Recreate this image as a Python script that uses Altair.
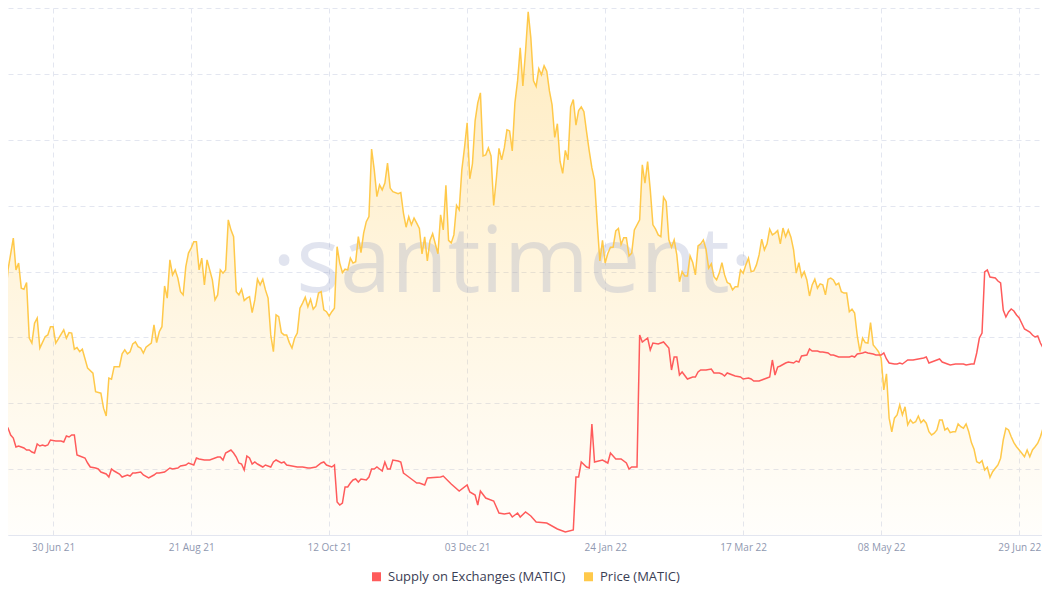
import altair as alt
import pandas as pd

# ---------------- data ----------------
# day offsets from 2021-06-10
price_days = ([0, 1, 2, 3, 5, 6, 7, 8, 9, 10, 11, 12, 13, 14, 15, 17, 18, 19, 20, 21, 24, 25, 26, 27, 28,
               29, 30, 31, 33, 35, 36, 38, 39, 40, 41, 42, 43, 45, 46, 47, 48, 49, 50, 51, 52, 53, 54, 55]
              + list(range(57, 149)) + list(range(150, 238)) + [238, 239]
              + list(range(241, 317)) + list(range(317, 396)))
price_values = [
    1.400, 1.242, 1.316, 1.484, 1.662, 1.484, 1.522, 1.382, 1.376, 1.413, 1.102, 1.074, 1.186, 1.214, 1.046,
    1.110, 1.120, 1.166, 1.166, 1.074, 1.148, 1.102, 1.133, 1.130, 1.040, 1.049, 1.026, 1.040, 0.934, 0.906,
    0.802, 0.794, 0.710, 0.666, 0.878, 0.872, 0.942, 0.942, 1.014, 1.036, 1.014, 1.026, 1.070, 1.081, 1.054,
    1.046, 1.018, 1.051, 1.074, 1.176, 1.077, 1.138, 1.166, 1.394, 1.326, 1.540, 1.456, 1.484, 1.438, 1.362,
    1.344, 1.502, 1.578, 1.606, 1.642, 1.642, 1.484, 1.550, 1.400, 1.540, 1.484,
    1.428, 1.316, 1.344, 1.484, 1.466, 1.484, 1.764, 1.708, 1.670, 1.362, 1.344, 1.376, 1.312, 1.326, 1.334,
    1.245, 1.316, 1.432, 1.400, 1.432, 1.372, 1.326, 1.120, 1.026, 1.232, 1.222, 1.133, 1.120, 1.120, 1.077,
    1.046, 1.102, 1.130, 1.270, 1.298, 1.331, 1.278, 1.320, 1.264, 1.282, 1.354, 1.362, 1.260, 1.250, 1.226,
    1.250, 1.270, 1.614, 1.522, 1.469, 1.488, 1.484, 1.550, 1.522, 1.530, 1.670, 1.581, 1.690, 1.754, 1.782,
    2.160, 2.044, 1.894, 1.960, 1.932, 1.970, 2.082, 1.942, 1.922, 1.910, 1.917, 1.802, 1.723, 1.782, 1.736,
    1.774, 1.746, 1.716,
    1.574, 1.669, 1.534, 1.649, 1.687, 1.630, 1.574, 1.792, 1.708, 1.957, 1.649, 1.635, 1.680, 1.845, 1.820,
    2.044, 2.167, 2.307, 1.994, 2.078, 2.318, 2.419, 2.475, 2.122, 2.128, 2.167, 2.122, 1.845, 1.994, 2.164,
    2.100, 2.167, 2.268, 2.262, 2.150, 2.419, 2.542, 2.727, 2.514, 2.708, 2.929, 2.783, 2.542, 2.511, 2.610,
    2.576, 2.626, 2.596, 2.486, 2.408, 2.226, 2.302, 2.092, 2.024, 2.153, 2.100, 2.397, 2.438, 2.294, 2.376,
    2.397, 2.370, 2.257, 2.150, 2.055, 1.988, 1.747, 1.534, 1.649, 1.523, 1.576, 1.611, 1.611, 1.702, 1.716,
    1.626, 1.664, 1.664, 1.562,
    1.578, 1.708, 1.764, 2.072, 1.970, 2.090, 1.932, 1.736, 1.712, 1.680, 1.670, 1.891, 1.866, 1.652, 1.611,
    1.652, 1.568, 1.418, 1.474, 1.450, 1.450, 1.562, 1.525, 1.456, 1.618, 1.630, 1.652, 1.600, 1.494, 1.518,
    1.446, 1.428, 1.466, 1.525, 1.456, 1.413, 1.406, 1.372, 1.390, 1.390, 1.484, 1.466, 1.512, 1.550, 1.474,
    1.478, 1.512, 1.568, 1.656, 1.596, 1.630, 1.712, 1.680, 1.690, 1.704, 1.630, 1.718, 1.670, 1.708, 1.667,
    1.596, 1.466, 1.525, 1.446, 1.474, 1.428, 1.338, 1.400, 1.432, 1.382, 1.406, 1.400, 1.344, 1.432, 1.438,
    1.428, 1.400, 1.410,
    1.362, 1.354, 1.354, 1.250, 1.264, 1.242, 1.114, 1.026, 1.102, 1.077, 1.074, 1.189, 1.064, 1.046, 1.026,
    0.990, 0.812, 0.902, 0.654, 0.578, 0.654, 0.672, 0.728, 0.672, 0.718, 0.616, 0.644, 0.626, 0.634, 0.666,
    0.629, 0.644, 0.626, 0.578, 0.560, 0.570, 0.588, 0.644, 0.644, 0.588, 0.598, 0.573, 0.578, 0.578, 0.622,
    0.606, 0.598, 0.622, 0.578, 0.517, 0.480, 0.410, 0.402, 0.416, 0.364, 0.379, 0.323, 0.354, 0.374, 0.392,
    0.430, 0.532, 0.598, 0.588, 0.550, 0.517, 0.494, 0.476, 0.458, 0.438, 0.476, 0.438, 0.476, 0.494, 0.514,
    0.550, 0.598, 0.578, 0.550,
]

supply_days = [
    0, 1, 2, 3, 4, 5, 6, 7, 8, 9, 10, 11, 12, 13, 14, 15, 16, 17, 18, 19, 21, 23, 24, 25, 26, 27, 28, 29, 30,
    32, 33, 34, 36, 37, 38, 40, 41, 42, 43, 45, 46, 47, 48, 49, 50, 51, 53, 54, 56, 58, 59, 60, 62, 64, 65,
    67, 68, 70, 71, 73, 74, 75, 77, 79,
    82, 83, 84, 85, 87, 88, 89, 90, 91, 92, 93, 94, 95, 96, 97, 99, 100, 102, 103, 104, 106, 107, 108, 110,
    112, 114, 116, 117, 119, 121, 122, 123, 125, 126, 127, 128, 129, 130, 131, 132, 133, 134, 135, 136, 138,
    139, 140, 141, 142, 143, 144, 145, 146, 147, 148, 150, 151, 152, 153, 154, 156, 157, 158,
    160, 161, 166, 167, 170, 173, 176, 177, 179, 180, 181, 183, 186, 188, 190, 192, 193, 195, 196, 198, 200,
    202, 206, 210, 213, 216, 217, 218, 219, 221, 222, 223, 224, 227, 229, 230, 232, 234, 236, 237, 238, 240,
    241, 242, 244, 245, 246, 248, 250, 252, 253, 254, 255, 256, 257, 259, 261, 262, 263, 264, 266, 268, 269,
    271, 272, 273, 274, 276, 277, 279, 280, 282, 283, 284, 286, 287, 289, 290, 291, 292, 293, 294, 296, 297,
    299, 300, 301, 302, 304, 305, 306, 308, 309, 310, 312, 313, 314, 315, 316, 318, 320, 321, 322, 323, 325,
    326, 327, 329, 330, 332, 333, 334, 335, 337, 338, 339, 340, 341, 342, 344, 346, 348, 349, 350, 352, 354,
    355, 357, 358, 360, 362, 363, 364, 366, 367, 368, 369, 370, 371, 372, 373, 375, 376, 377, 378, 379, 380,
    381, 382, 383, 384, 386, 388, 389, 390, 391, 392, 393, 394, 396,
]
supply_values = [
    1.108, 1.112, 1.111, 1.107, 1.100, 1.097, 1.088, 1.089, 1.088, 1.087, 1.085, 1.085, 1.083, 1.082, 1.091,
    1.089, 1.090, 1.089, 1.090, 1.095, 1.094, 1.094, 1.093, 1.099, 1.098, 1.100, 1.100, 1.080, 1.079, 1.077,
    1.072, 1.068, 1.067, 1.066, 1.063, 1.061, 1.058, 1.066, 1.064, 1.061, 1.058, 1.059, 1.060, 1.059, 1.062,
    1.062, 1.063, 1.060, 1.057, 1.060, 1.062, 1.062, 1.063, 1.067, 1.066, 1.067, 1.069, 1.070, 1.072, 1.070,
    1.077, 1.076, 1.075, 1.075,
    1.078, 1.078, 1.075, 1.082, 1.085, 1.082, 1.078, 1.072, 1.071, 1.065, 1.079, 1.077, 1.071, 1.073, 1.071,
    1.068, 1.070, 1.068, 1.073, 1.075, 1.072, 1.073, 1.070, 1.069, 1.068, 1.068, 1.067, 1.067, 1.068, 1.072,
    1.073, 1.070, 1.068, 1.070, 1.033, 1.030, 1.032, 1.048, 1.048, 1.052, 1.055, 1.056, 1.053, 1.056, 1.055,
    1.058, 1.066, 1.066, 1.068, 1.066, 1.064, 1.073, 1.066, 1.066, 1.075, 1.074, 1.073, 1.062, 1.060, 1.058,
    1.054, 1.052, 1.052,
    1.050, 1.057, 1.058, 1.059, 1.051, 1.044, 1.050, 1.043, 1.040, 1.030, 1.044, 1.037, 1.034, 1.022, 1.021,
    1.022, 1.018, 1.022, 1.018, 1.023, 1.019, 1.013, 1.012, 1.006, 1.003, 1.005, 1.058, 1.058, 1.073, 1.068,
    1.067, 1.111, 1.073, 1.075, 1.072, 1.082, 1.076, 1.076, 1.072, 1.066, 1.068, 1.068, 1.200, 1.193, 1.197,
    1.185, 1.192, 1.191, 1.193, 1.187, 1.165, 1.178, 1.178, 1.160, 1.163, 1.156, 1.158, 1.158, 1.163, 1.165,
    1.165, 1.166, 1.162, 1.162, 1.161, 1.159, 1.162, 1.160, 1.159, 1.158, 1.156, 1.157, 1.156, 1.154, 1.154,
    1.155, 1.157, 1.158, 1.175, 1.160, 1.168, 1.169, 1.172, 1.173, 1.172, 1.174, 1.173, 1.179, 1.180, 1.186,
    1.184, 1.184, 1.183, 1.183, 1.182, 1.180, 1.180, 1.179, 1.178, 1.178, 1.178, 1.179, 1.178, 1.181, 1.182,
    1.183, 1.182, 1.181, 1.180, 1.180, 1.182, 1.176, 1.172, 1.171, 1.171, 1.172, 1.171, 1.173, 1.175, 1.175,
    1.176, 1.177, 1.178, 1.172, 1.174, 1.176, 1.173, 1.171, 1.170, 1.171, 1.171, 1.171, 1.170, 1.171, 1.171,
    1.182, 1.197, 1.202, 1.263, 1.265, 1.258, 1.257, 1.254, 1.252, 1.225, 1.218, 1.223, 1.226, 1.224, 1.220,
    1.217, 1.206, 1.203, 1.200, 1.198, 1.199, 1.192, 1.187, 1.186, 1.186,
]

tick_dates = [(2021, 6, 30), (2021, 8, 21), (2021, 10, 12), (2021, 12, 3),
              (2022, 1, 24), (2022, 3, 17), (2022, 5, 8), (2022, 6, 29)]
series_names = ["Supply on Exchanges (MATIC)", "Price (MATIC)"]
series_colors = ["#ff5b5b", "#ffc94a"]
watermark = ["·santiment·"]

# ---------------- build ----------------
base_day = pd.Timestamp("2021-06-10")


def to_dates(days):
    return [(base_day + pd.Timedelta(days=d)).strftime("%Y-%m-%dT%H:%M:%S") for d in days]


price_df = pd.DataFrame({"date": to_dates(price_days), "price": price_values,
                         "series": series_names[1]})
supply_df = pd.DataFrame({"date": to_dates(supply_days), "supply": supply_values,
                          "series": series_names[0]})
wm_df = pd.DataFrame({"t": watermark})

FONT = "Open Sans"
GRID = "#e3e6f0"

x_enc = alt.X(
    "date:T",
    scale=alt.Scale(domain=[alt.DateTime(year=2021, month=6, date=13),
                            alt.DateTime(year=2022, month=7, date=7, hours=14, minutes=24)]),
    axis=alt.Axis(values=[alt.DateTime(year=y, month=m, date=d) for y, m, d in tick_dates],
                  format="%d %b %y", title=None, ticks=False, grid=True, gridDash=[5, 4],
                  gridColor=GRID, domainColor="#e3e6f0", labelColor="#8f98b0",
                  labelFont=FONT, labelFontSize=10, labelPadding=7, labelOverlap=False),
)

color_enc = alt.Color(
    "series:N",
    scale=alt.Scale(domain=series_names, range=series_colors),
    legend=alt.Legend(orient="none", legendX=362, legendY=562, direction="horizontal",
                      title=None, symbolType="square", symbolSize=16, symbolStrokeWidth=5,
                      labelFont=FONT, labelFontSize=13, labelColor="#3b4055", labelLimit=0,
                      columnPadding=10, labelOffset=5),
)

price_y = alt.Y(
    "price:Q",
    scale=alt.Scale(domain=[0, 2.95], nice=False, zero=False),
    axis=alt.Axis(values=[i * 2.95 / 8 for i in range(9)], labels=False, ticks=False,
                  domain=False, title=None, grid=True, gridDash=[5, 4], gridColor=GRID),
)

area = alt.Chart(price_df).mark_area(
    clip=True,
    color=alt.Gradient(
        gradient="linear",
        stops=[alt.GradientStop(color="rgba(255, 196, 64, 0.33)", offset=0),
               alt.GradientStop(color="rgba(255, 196, 64, 0.02)", offset=1)],
        x1=1, x2=1, y1=0, y2=1,
    ),
).encode(x=x_enc, y=price_y)

wm = alt.Chart(wm_df).mark_text(
    font=FONT, fontSize=92, fontWeight=400, color="#8c97c0", opacity=0.25,
    align="center", baseline="alphabetic",
).encode(x=alt.value(505), y=alt.value(284), text="t:N")

price_line = alt.Chart(price_df).mark_line(clip=True, strokeWidth=1.5).encode(
    x=x_enc, y=price_y, color=color_enc)

supply_line = alt.Chart(supply_df).mark_line(clip=True, strokeWidth=1.5).encode(
    x=x_enc,
    y=alt.Y("supply:Q", scale=alt.Scale(domain=[1.0, 1.527], nice=False, zero=False), axis=None),
    color=color_enc,
)

price_layer = alt.layer(area, wm, price_line)

chart = (
    alt.layer(price_layer, supply_line)
    .resolve_scale(y="independent")
    .properties(width=1034, height=527, padding=0, background="#ffffff")
    .configure_view(stroke=None)
)

chart.save("out.html", embed_options={"renderer": "svg", "actions": False})
